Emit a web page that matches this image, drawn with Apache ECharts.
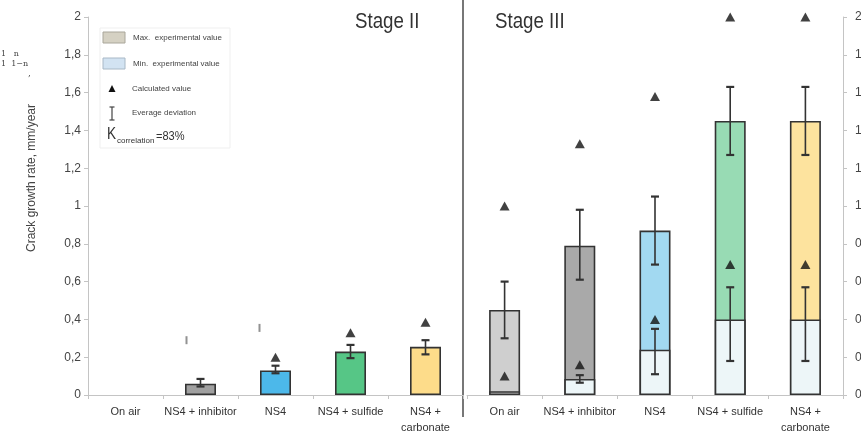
<!DOCTYPE html>
<html>
<head>
<meta charset="utf-8">
<script src="https://cdn.jsdelivr.net/npm/echarts@6/dist/echarts.min.js"></script>
<style>
  html, body { margin: 0; padding: 0; background: #fff; }
  #chart { width: 861px; height: 438px; }
</style>
</head>
<body>
<div id="chart"></div>
<script>
// Categories shared by both stages
const categories = ['On air', 'NS4 + inhibitor', 'NS4', 'NS4 + sulfide', 'NS4 +\ncarbonate'];
const yTicks = { min: 0, max: 2, step: 0.2 };

// Stage II: experimental rate, deviation range, calculated value
const stage2Rate = [null, 0.06, 0.13, 0.23, 0.255];
const stage2ErrLow = [null, 0.045, 0.115, 0.195, 0.215];
const stage2ErrHigh = [null, 0.085, 0.155, 0.265, 0.29];
const stage2Calc = [null, null, 0.20, 0.33, 0.385];
const stage2Marks = [null, 0.29, 0.355, null, null];

// Stage III: max / min experimental values, deviation ranges, calculated values
const stage3Max = [0.45, 0.79, 0.87, 1.45, 1.45];
const stage3Min = [0.02, 0.085, 0.24, 0.40, 0.40];
const stage3MaxErrLow = [0.30, 0.61, 0.69, 1.27, 1.27];
const stage3MaxErrHigh = [0.60, 0.98, 1.05, 1.63, 1.63];
const stage3MinErrLow = [null, 0.065, 0.11, 0.18, 0.18];
const stage3MinErrHigh = [null, 0.105, 0.35, 0.57, 0.57];
const stage3CalcLow = [0.10, 0.16, 0.40, 0.69, 0.69];
const stage3CalcHigh = [1.0, 1.33, 1.58, 2.0, 2.0];

// Styles
const stage2Colors = ['#a0a0a0', '#a0a0a0', '#4cb8ea', '#56c686', '#fddc8a'];
const stage3MaxColors = ['#cfcfcf', '#a9a9a9', '#a2d9f1', '#98dbb4', '#fde39e'];
const stage3MinColors = ['#cfcfcf', '#edf6f8', '#edf6f8', '#edf6f8', '#edf6f8'];
const markOffsets = [0, -14, -16, 0, 0];
const FONT = 'Liberation Sans, Arial, sans-serif';
const EDGE = '#333';
const SQUEEZE = 0.85; // condensed look for the headline text

const chart = echarts.init(document.getElementById('chart'), null, { renderer: 'canvas' });

const fmt = v => String(+v.toFixed(1)).replace('.', ',');

function rangeData(lo, hi) {
  const out = [];
  lo.forEach((v, i) => { if (v != null && hi[i] != null) out.push([i, v, hi[i]]); });
  return out;
}
function pointData(vals, offsets) {
  const out = [];
  vals.forEach((v, i) => {
    if (v == null) return;
    const item = { value: [i, v] };
    if (offsets) item.symbolOffset = [offsets[i], 0];
    out.push(item);
  });
  return out;
}
function barData(vals, colors) {
  return vals.map((v, i) => v == null ? '-' : { value: v, itemStyle: { color: colors[i] } });
}
function errorRender(params, api) {
  const x = api.value(0);
  const top = api.coord([x, api.value(2)]);
  const bot = api.coord([x, api.value(1)]);
  const hw = 4;
  const style = { stroke: EDGE, lineWidth: 1.6 };
  return {
    type: 'group',
    children: [
      { type: 'line', shape: { x1: top[0], y1: top[1], x2: bot[0], y2: bot[1] }, style },
      { type: 'line', shape: { x1: top[0] - hw, y1: top[1], x2: top[0] + hw, y2: top[1] }, style: { stroke: EDGE, lineWidth: 2.2 } },
      { type: 'line', shape: { x1: bot[0] - hw, y1: bot[1], x2: bot[0] + hw, y2: bot[1] }, style: { stroke: EDGE, lineWidth: 2.2 } }
    ]
  };
}

const axisLineStyle = { color: '#c4c4c4', width: 1 };
function xAxisFor(gridIndex) {
  return {
    type: 'category', gridIndex, data: categories,
    axisLine: { lineStyle: axisLineStyle },
    axisTick: { show: true, length: 4, lineStyle: axisLineStyle },
    axisLabel: { color: '#333', fontFamily: FONT, fontSize: 11, margin: 9, lineHeight: 16, interval: 0 }
  };
}
function yAxisFor(gridIndex, position) {
  return {
    type: 'value', gridIndex, position,
    min: yTicks.min, max: yTicks.max, interval: yTicks.step,
    axisLine: { show: true, lineStyle: axisLineStyle },
    axisTick: { show: true, length: 4, lineStyle: axisLineStyle },
    axisLabel: { color: '#444', fontFamily: FONT, fontSize: 12, margin: position === 'right' ? 12 : 7, formatter: fmt },
    splitLine: { show: false }
  };
}

function squeezedText(x, y, text, size, extra) {
  return Object.assign({
    type: 'text', x, y, scaleX: SQUEEZE, originX: 0, originY: 0,
    style: { text, font: size + 'px ' + FONT, fill: '#333', align: 'left', verticalAlign: 'middle' }
  }, extra || {});
}

// Legend panel contents
const legendGraphics = [
  { type: 'rect', shape: { x: 100, y: 28, width: 130, height: 120 }, style: { fill: '#fff', stroke: '#efefef', lineWidth: 1 } },
  { type: 'rect', shape: { x: 103, y: 32, width: 22, height: 11 }, style: { fill: '#d5d1c3', stroke: '#a9a69a', lineWidth: 1 } },
  { type: 'text', x: 133, y: 37.5, style: { text: 'Max.  experimental value', font: '8px ' + FONT, fill: '#444', verticalAlign: 'middle' } },
  { type: 'rect', shape: { x: 103, y: 58, width: 22, height: 11 }, style: { fill: '#d2e3f2', stroke: '#a8b8c6', lineWidth: 1 } },
  { type: 'text', x: 133, y: 63.5, style: { text: 'Min.  experimental value', font: '8px ' + FONT, fill: '#444', verticalAlign: 'middle' } },
  { type: 'polygon', shape: { points: [[112, 85], [108.5, 92], [115.5, 92]] }, style: { fill: '#111' } },
  { type: 'text', x: 132, y: 89, style: { text: 'Calculated value', font: '8px ' + FONT, fill: '#444', verticalAlign: 'middle' } },
  { type: 'line', shape: { x1: 112, y1: 107, x2: 112, y2: 120 }, style: { stroke: '#444', lineWidth: 1.2 } },
  { type: 'line', shape: { x1: 109.5, y1: 107, x2: 114.5, y2: 107 }, style: { stroke: '#444', lineWidth: 1.2 } },
  { type: 'line', shape: { x1: 109.5, y1: 120, x2: 114.5, y2: 120 }, style: { stroke: '#444', lineWidth: 1.2 } },
  { type: 'text', x: 132, y: 113, style: { text: 'Everage deviation', font: '8px ' + FONT, fill: '#444', verticalAlign: 'middle' } },
  squeezedText(107, 135, 'K', 16),
  { type: 'text', x: 117, y: 141, style: { text: 'correlation', font: '8px ' + FONT, fill: '#333', verticalAlign: 'middle' } },
  squeezedText(156, 136, '=83%', 13)
];

const option = {
  backgroundColor: '#fff',
  animation: false,
  grid: [
    { left: 88, right: 398, top: 17, bottom: 43, outerBoundsMode: 'none', containLabel: false },
    { left: 467, right: 18, top: 17, bottom: 43, outerBoundsMode: 'none', containLabel: false }
  ],
  xAxis: [xAxisFor(0), xAxisFor(1)],
  yAxis: [yAxisFor(0, 'left'), yAxisFor(1, 'right')],
  graphic: [
    // divider between the two stages
    { type: 'line', shape: { x1: 463, y1: 0, x2: 463, y2: 417 }, style: { stroke: '#777', lineWidth: 2 } },
    squeezedText(355, 22, 'Stage II', 22),
    squeezedText(495, 22, 'Stage III', 22),
    { type: 'text', x: 32, y: 178, rotation: Math.PI / 2, style: { text: 'Crack growth rate, mm/year', font: '12px ' + FONT, fill: '#444', align: 'center', verticalAlign: 'middle' } },
    { type: 'text', x: 1, y: 54, style: { text: '1   n', font: '8px DejaVu Serif, serif', fill: '#444', verticalAlign: 'middle' } },
    { type: 'text', x: 1, y: 64, style: { text: '1  1\u2212n', font: '8px DejaVu Serif, serif', fill: '#444', verticalAlign: 'middle' } },
    { type: 'text', x: 28, y: 74, style: { text: ',', font: '9px DejaVu Serif, serif', fill: '#444', verticalAlign: 'middle' } }
  ].concat(legendGraphics),
  series: [
    // ---- Stage II ----
    {
      type: 'bar', xAxisIndex: 0, yAxisIndex: 0, barWidth: 31,
      data: barData(stage2Rate, stage2Colors),
      itemStyle: { borderColor: EDGE, borderWidth: 1.6 }
    },
    {
      type: 'custom', xAxisIndex: 0, yAxisIndex: 0, renderItem: errorRender,
      data: rangeData(stage2ErrLow, stage2ErrHigh), encode: { x: 0, y: [1, 2] }, z: 5
    },
    {
      type: 'scatter', xAxisIndex: 0, yAxisIndex: 0, symbol: 'triangle', symbolSize: [10, 9],
      itemStyle: { color: '#111' }, data: pointData(stage2Calc), z: 6
    },
    {
      type: 'scatter', xAxisIndex: 0, yAxisIndex: 0, symbol: 'rect', symbolSize: [2, 8],
      itemStyle: { color: '#777' }, data: pointData(stage2Marks, markOffsets), z: 6
    },
    // ---- Stage III ----
    {
      type: 'bar', xAxisIndex: 1, yAxisIndex: 1, barWidth: 31, barGap: '-100%',
      data: barData(stage3Max, stage3MaxColors),
      itemStyle: { borderColor: EDGE, borderWidth: 1.6 }
    },
    {
      type: 'bar', xAxisIndex: 1, yAxisIndex: 1, barWidth: 31, barGap: '-100%',
      data: barData(stage3Min, stage3MinColors),
      itemStyle: { borderColor: EDGE, borderWidth: 1.6 }
    },
    {
      type: 'custom', xAxisIndex: 1, yAxisIndex: 1, renderItem: errorRender,
      data: rangeData(stage3MaxErrLow, stage3MaxErrHigh), encode: { x: 0, y: [1, 2] }, z: 5
    },
    {
      type: 'custom', xAxisIndex: 1, yAxisIndex: 1, renderItem: errorRender,
      data: rangeData(stage3MinErrLow, stage3MinErrHigh), encode: { x: 0, y: [1, 2] }, z: 5
    },
    {
      type: 'scatter', xAxisIndex: 1, yAxisIndex: 1, symbol: 'triangle', symbolSize: [10, 9],
      itemStyle: { color: '#111' }, data: pointData(stage3CalcLow), z: 6
    },
    {
      type: 'scatter', xAxisIndex: 1, yAxisIndex: 1, symbol: 'triangle', symbolSize: [10, 9],
      itemStyle: { color: '#111' }, data: pointData(stage3CalcHigh), z: 6
    }
  ]
};

chart.setOption(option);
</script>
</body>
</html>
